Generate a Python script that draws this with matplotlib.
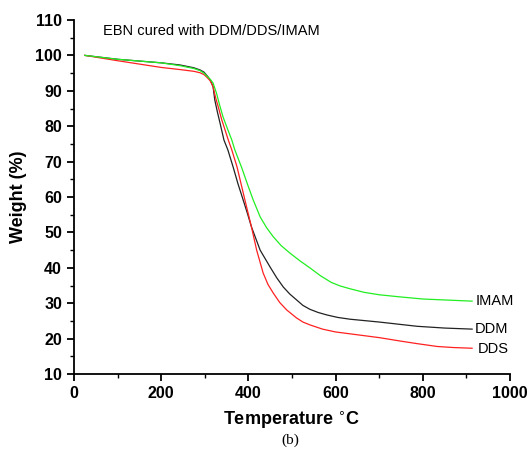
import matplotlib
matplotlib.use("Agg")
import matplotlib.pyplot as plt
from matplotlib.ticker import MultipleLocator

plt.rcParams['font.family'] = ['Liberation Sans', 'DejaVu Sans']

ddm_T = [25, 100, 200, 243, 275, 289, 298, 307, 313, 319, 323, 329, 335, 344, 353, 365, 376, 388, 398, 407, 427, 450, 465, 480, 495, 511, 525, 541, 560, 580, 605, 633, 700, 787, 850, 913]
ddm_w = [100, 98.9, 97.9, 97.3, 96.5, 95.9, 95.3, 94.0, 93.0, 91.2, 87.4, 84.0, 80.9, 76.1, 73.3, 68.5, 63.8, 59.2, 55.3, 51.6, 45.0, 40.2, 37.2, 34.6, 32.6, 30.9, 29.4, 28.3, 27.4, 26.7, 26.0, 25.5, 24.7, 23.5, 23.0, 22.7]

dds_T = [25, 100, 200, 243, 275, 289, 298, 305, 312, 319, 325, 332, 339, 354, 362, 374, 392, 407, 419, 434, 445, 457, 472, 488, 510, 525, 541, 570, 600, 650, 700, 750, 787, 833, 870, 913]
dds_w = [100, 98.5, 96.6, 96.0, 95.5, 95.1, 94.6, 93.8, 92.9, 91.2, 88.0, 85.0, 81.8, 76.1, 73.3, 68.5, 59.2, 51.6, 45.0, 38.5, 35.3, 32.9, 30.2, 28.1, 25.9, 24.7, 23.9, 22.7, 21.9, 21.1, 20.3, 19.3, 18.6, 17.8, 17.5, 17.3]

imam_T = [25, 100, 200, 243, 275, 289, 298, 307, 313, 319, 327, 334, 342, 352, 362, 369, 385, 398, 411, 427, 442, 457, 475, 495, 518, 541, 565, 590, 610, 633, 665, 700, 748, 800, 913]
imam_w = [100, 98.9, 97.9, 97.1, 96.3, 95.7, 95.0, 93.9, 93.2, 92.2, 89.3, 86.0, 82.6, 79.3, 76.1, 73.3, 68.2, 63.6, 59.2, 54.4, 51.3, 48.8, 46.3, 44.2, 42.0, 40.0, 37.8, 35.9, 34.9, 34.1, 33.1, 32.4, 31.8, 31.2, 30.6]

series_labels = ["IMAM", "DDM", "DDS"]

fig = plt.figure(figsize=(5.28, 4.54), dpi=100)
ax = fig.add_axes([0.140, 0.176, 0.826, 0.780])

ax.plot(ddm_T, ddm_w, color='#222222', lw=0.9)
ax.plot(dds_T, dds_w, color='#ff2020', lw=0.9)
ax.plot(imam_T, imam_w, color='#22ee22', lw=0.9)

ax.text(920, imam_w[-1], series_labels[0], fontsize=10.5, va='center', ha='left')
ax.text(920, ddm_w[-1], series_labels[1], fontsize=10.5, va='center', ha='left')
ax.text(925, dds_w[-1] - 0.3, series_labels[2], fontsize=10.5, va='center', ha='left')

ax.text(66, 107, "EBN cured with DDM/DDS/IMAM", fontsize=10.5, va='center', ha='left')

ax.set_xlim(0, 1000)
ax.set_ylim(10, 110)
ax.xaxis.set_major_locator(MultipleLocator(200))
ax.xaxis.set_minor_locator(MultipleLocator(100))
ax.yaxis.set_major_locator(MultipleLocator(10))
ax.yaxis.set_minor_locator(MultipleLocator(5))

for s in ['top', 'right']:
    ax.spines[s].set_visible(False)
for s in ['left', 'bottom']:
    ax.spines[s].set_linewidth(1.3)

ax.tick_params(which='major', direction='out', length=5, width=1.3, labelsize=11.5)
ax.tick_params(which='minor', direction='out', length=3, width=1.0)
for lab in ax.get_xticklabels() + ax.get_yticklabels():
    lab.set_fontweight('bold')

ax.set_xlabel("Temperature $^{\\circ}$C", fontsize=13, fontweight='bold', labelpad=6)
ax.set_ylabel("Weight (%)", fontsize=13, fontweight='bold', labelpad=6)

fig.text(0.55, 0.03, "(b)", fontsize=11, family='Liberation Serif', ha='center', va='center')

fig.savefig("out.png", dpi=100)
